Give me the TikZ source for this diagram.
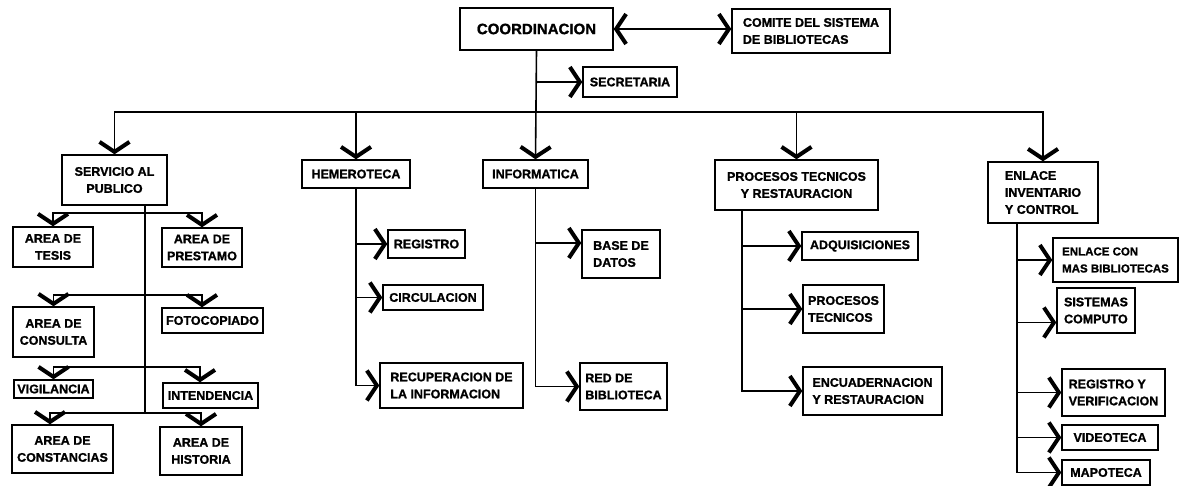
\documentclass[tikz,border=0pt]{standalone}
\usepackage{fontspec}
\setmainfont{Liberation Sans}[BoldFeatures={FakeBold=1.2}]
\usetikzlibrary{arrows.meta}
\newcommand\mybox[7][]{\node[bx,#1,minimum width={(#4-#2)*1pt},minimum height={(#5-#3)*1pt}] (#6) at ({(#2+#4)/2},{(#3+#5)/2}) {#7};}
\tikzset{
  bx/.style={draw, line width=1.4pt, inner sep=1pt, align=center, font=\fontsize{12.5}{17}\selectfont\bfseries},
  ln/.style={line width=1.6pt},
  tipv/.tip={Straight Barb[length=10pt,width=30pt,line width=4pt]},
  arr/.style={ln,-tipv},
  arr2/.style={ln,tipv-tipv},
}
\begin{document}
\begin{tikzpicture}[x=1pt,y=-1pt]
\useasboundingbox (0,0) rectangle (1179,486);
% top level
\mybox[font=\fontsize{15}{18}\selectfont\bfseries]{460}{8}{613}{50}{coord}{COORDINACION}
\mybox[align=left]{732}{9}{890}{53}{comite}{COMITE DEL SISTEMA\\DE BIBLIOTECAS}
\mybox{583}{67}{677}{97}{sec}{SECRETARIA}
% second level
\mybox{62}{155}{167}{205}{serv}{SERVICIO AL\\PUBLICO}
\mybox{302}{160}{410}{188}{hem}{HEMEROTECA}
\mybox{483}{160}{588}{188}{inf}{INFORMATICA}
\mybox{715}{160}{878}{210}{proc}{PROCESOS TECNICOS\\Y RESTAURACION}
\mybox[align=left]{988}{162}{1098}{223}{enl}{ENLACE\\INVENTARIO\\Y CONTROL}
% servicio children
\mybox{13}{227}{93}{267}{tesis}{AREA DE\\TESIS}
\mybox{162}{228}{242}{267}{prest}{AREA DE\\PRESTAMO}
\mybox{13}{307}{94}{357}{cons}{AREA DE\\CONSULTA}
\mybox{162}{308}{263}{333}{foto}{FOTOCOPIADO}
\mybox{14}{380}{93}{398}{vig}{VIGILANCIA}
\mybox{163}{383}{258}{408}{int}{INTENDENCIA}
\mybox{12}{425}{113}{473}{const}{AREA DE\\CONSTANCIAS}
\mybox{160}{427}{242}{475}{hist}{AREA DE\\HISTORIA}
% hemeroteca children
\mybox{388}{230}{465}{258}{reg}{REGISTRO}
\mybox{383}{285}{483}{310}{circ}{CIRCULACION}
\mybox[align=left]{380}{363}{523}{408}{rec}{RECUPERACION DE\\LA INFORMACION}
% informatica children
\mybox[align=left]{582}{230}{660}{278}{base}{BASE DE\\DATOS}
\mybox[align=left]{580}{363}{667}{410}{red}{RED DE\\BIBLIOTECA}
% procesos children
\mybox{802}{232}{918}{260}{adq}{ADQUISICIONES}
\mybox[align=left]{803}{285}{884}{333}{ptec}{PROCESOS\\TECNICOS}
\mybox[align=left]{803}{367}{942}{415}{enc}{ENCUADERNACION\\Y RESTAURACION}
% enlace children
\mybox[align=left,font=\fontsize{11.5}{17}\selectfont\bfseries]{1053}{238}{1178}{282}{ecm}{ENLACE CON\\MAS BIBLIOTECAS}
\mybox[align=left]{1057}{288}{1135}{333}{sis}{SISTEMAS\\COMPUTO}
\mybox[align=left]{1062}{369}{1165}{416}{regv}{REGISTRO Y\\VERIFICACION}
\mybox{1062}{425}{1158}{450}{vid}{VIDEOTECA}
\mybox{1062}{460}{1150}{485}{map}{MAPOTECA}
% top connectors
\draw[arr2] (coord.east) -- (coord.east -| comite.west);
\draw[arr] (coord.south |- sec.west) -- (sec.west);
\draw[arr] (coord.south) -- (inf.north);
\coordinate (bus) at (536,112);
\draw[arr] (bus) -| (serv.north);
\draw[arr] (bus) -| (hem.north);
\draw[arr] (bus) -| (proc.north);
\draw[arr] (bus) -| (enl.north);
% servicio tree
\coordinate (r1) at (145,213);
\coordinate (r2) at (145,295);
\coordinate (r3) at (145,367);
\coordinate (r4) at (145,413);
\draw[ln] (serv.south -| r1) -- (r4);
\draw[arr] (r1) -| (tesis.north);
\draw[arr] (r1) -| (prest.north);
\draw[arr] (r2) -| (cons.north);
\draw[arr] (r2) -| (foto.north -| 202,0);
\draw[arr] (r3) -| (vig.north);
\draw[arr] (r3) -| (int.north -| 200,0);
\draw[arr] (r4) -| (const.north -| 50,0);
\draw[arr] (r4) -| (hist.north);
% hemeroteca tree
\draw[arr] (hem.south) |- (rec.west);
\draw[arr] (hem.south |- reg.west) -- (reg.west);
\draw[arr] (hem.south |- circ.west) -- (circ.west);
% informatica tree
\coordinate (bw) at ([yshift=11pt]base.west);
\draw[arr] (inf.south) |- (red.west);
\draw[arr] (inf.south |- bw) -- (bw);
% procesos tree
\coordinate (pt) at (proc.south -| 742,0);
\draw[arr] (pt) |- (enc.west);
\draw[arr] (pt |- adq.west) -- (adq.west);
\draw[arr] (pt |- ptec.west) -- (ptec.west);
% enlace tree
\coordinate (et) at (enl.south -| 1017,0);
\coordinate (sw) at ([yshift=-12pt]sis.west);
\draw[arr] (et) |- (map.west);
\draw[arr] (et |- ecm.west) -- (ecm.west);
\draw[arr] (et |- sw) -- (sw);
\draw[arr] (et |- regv.west) -- (regv.west);
\draw[arr] (et |- vid.west) -- (vid.west);
\end{tikzpicture}
\end{document}
